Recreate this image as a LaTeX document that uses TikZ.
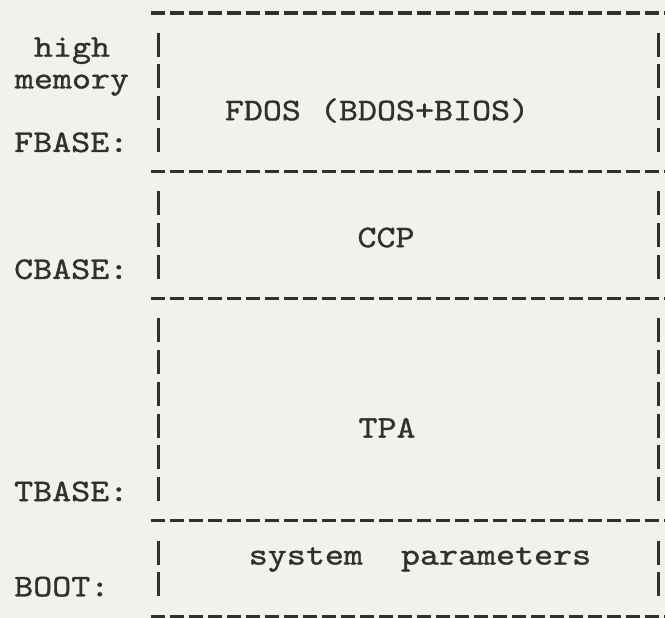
\documentclass[tikz,border=0pt]{standalone}
\usepackage{fontspec}
\newfontfamily\typer{lmmono10-regular.otf}[FakeStretch=1.15,FakeBold=1]
\definecolor{paper}{RGB}{241,241,238}
\definecolor{ink}{RGB}{50,48,45}
\newcommand{\rowy}[1]{13+31.74*#1}

\begin{document}
\begin{tikzpicture}[x=1pt,y=-1pt,
	rule/.style={draw=ink,line width=3.1pt,dash pattern=on 14pt off 5pt},
	bar/.style={draw=ink,line width=3pt,dash pattern=on 24pt off 7.74pt},
	word/.style={text=ink,font=\typer\fontsize{31.5}{36}\selectfont,inner sep=0pt,anchor=base},
	addr/.style={word,anchor=base west}
]

\fill[paper] (0,0) rectangle (665,618);
\useasboundingbox (0,0) rectangle (665,618);

% Horizontal rules between the regions
\draw[rule] (151,{\rowy{0}}) -- (665,{\rowy{0}});
\draw[rule] (151,{\rowy{5}}) -- (665,{\rowy{5}});
\draw[rule] (151,{\rowy{9}}) -- (665,{\rowy{9}});
\draw[rule] (151,{\rowy{16}}) -- (665,{\rowy{16}});
\draw[rule] (151,{\rowy{19}}) -- (665,{\rowy{19}});

% Side bars, left and right
\draw[bar] (158,{\rowy{1}-12}) -- (158,{\rowy{4}+12}) (658,{\rowy{1}-12}) -- (658,{\rowy{4}+12});
\draw[bar] (158,{\rowy{6}-12}) -- (158,{\rowy{8}+12}) (658,{\rowy{6}-12}) -- (658,{\rowy{8}+12});
\draw[bar] (158,{\rowy{10}-12}) -- (158,{\rowy{15}+12}) (658,{\rowy{10}-12}) -- (658,{\rowy{15}+12});
\draw[bar] (158,{\rowy{17}-12}) -- (158,{\rowy{18}+12}) (658,{\rowy{17}-12}) -- (658,{\rowy{18}+12});

% Region names
\node[word] (fdos) at (377,{\rowy{3}+12}) {FDOS (BDOS+BIOS)};
\node[word] (ccp) at (386,{\rowy{7}+12}) {CCP};
\node[word] (tpa) at (387,{\rowy{13}+12}) {TPA};
\node[word] (syspar) at (420,{\rowy{17}+12}) {system~~parameters};

% Addresses
\node[word] (high) at (72,{\rowy{1}+12}) {high};
\node[word] (mem) at (72,{\rowy{2}+12}) {memory};
\node[addr] (fbase) at (14,{\rowy{4}+12}) {FBASE:};
\node[addr] (cbase) at (14,{\rowy{8}+12}) {CBASE:};
\node[addr] (tbase) at (14,{\rowy{15}+12}) {TBASE:};
\node[addr] (boot) at (14,{\rowy{18}+12}) {BOOT:};

\end{tikzpicture}
\end{document}
